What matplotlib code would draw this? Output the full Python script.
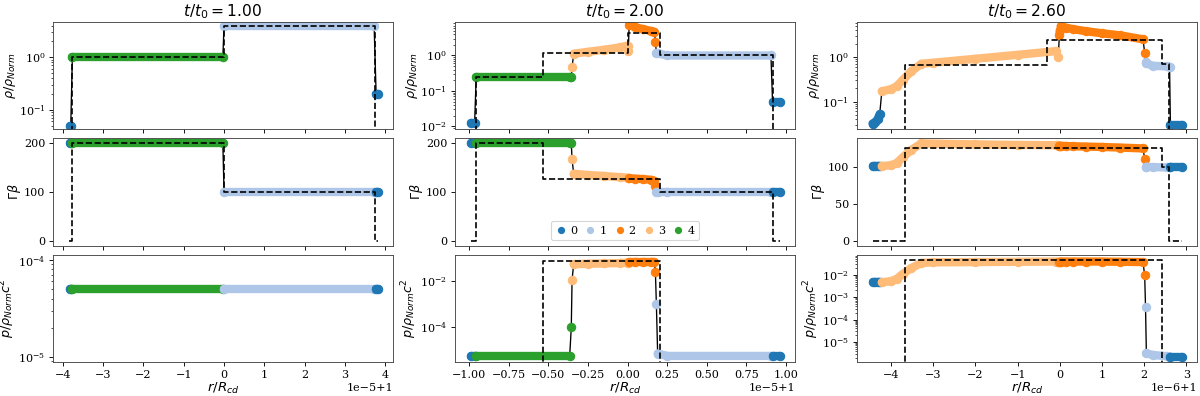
import numpy as np
import matplotlib
matplotlib.use("Agg")
import matplotlib.pyplot as plt
from matplotlib.lines import Line2D

plt.rcParams['font.family'] = ['DejaVu Serif']

# region colour ids: 0 blue, 1 light blue, 2 orange, 3 light orange, 4 green
COLORS = ['#1f77b4', '#aec7e8', '#ff7f0e', '#ffbb78', '#2ca02c']
LEGEND_LABELS = ['0', '1', '2', '3', '4']
TITLES = ['$t/t_0 = 1.00$', '$t/t_0 = 2.00$', '$t/t_0 = 2.60$']
SCALES = [1e-5, 1e-5, 1e-6]

# ---------------- column 1 : t/t0 = 1.00 ----------------
c1_ids = [0, 4, 1, 0]
c1_x = [[-3.83, -3.80], [-3.76, -0.03], [0.0, 3.72], [3.77, 3.81]]
c1_rho = [[0.05, 0.05], [1.0, 1.0], [4.0, 4.0], [0.2, 0.2]]
c1_gb = [[200, 200], [200, 200], [100, 100], [100, 100]]
c1_p = [[5e-5, 5e-5], [5e-5, 5e-5], [5e-5, 5e-5], [5e-5, 5e-5]]
c1_ref_x = [-3.85, -3.76, -3.76, 0.0, 0.0, 3.74, 3.74, 3.81]
c1_ref_rho = [0, 0, 1.0, 1.0, 4.0, 4.0, 0, 0]
c1_ref_gb = [0, 0, 200, 200, 100, 100, 0, 0]
c1_ref_p = [0, 0, 0, 0, 0, 0, 0, 0]

# ---------------- column 2 : t/t0 = 2.00 ----------------
c2_ids = [0, 4, 4, 3, 3, 3, 2, 2, 1, 1, 0]
c2_x = [[-0.99, -0.965], [-0.955, -0.365], [-0.355], [-0.35],
        [-0.34, -0.25, -0.15, -0.05, 0.0], [0.005],
        [0.01, 0.05, 0.10, 0.15, 0.17], [0.176], [0.182],
        [0.19, 0.25, 0.905], [0.915, 0.96]]
c2_rho = [[0.0124, 0.0124], [0.25, 0.25], [0.25], [0.46],
          [1.12, 1.27, 1.45, 1.68, 1.9], [1.3],
          [7.2, 6.3, 5.5, 4.9, 4.6], [2.4], [1.2],
          [1.15, 1.0, 1.0], [0.05, 0.05]]
c2_gb = [[200, 200], [200, 200], [200], [167],
         [137.5, 135, 133, 130.5, 129.5], [129.5],
         [128, 127.5, 126.5, 125, 123], [113], [100],
         [100, 100, 100], [100, 100]]
c2_p = [[5.5e-6, 5.5e-6], [5.5e-6, 5.5e-6], [9.4e-5], [0.0107],
        [0.052, 0.054, 0.056, 0.058, 0.06], [0.06],
        [0.065, 0.065, 0.065, 0.065, 0.065], [0.0227], [9.3e-4],
        [7e-6, 5.5e-6, 5.5e-6], [5.5e-6, 5.5e-6]]
c2_ref_x = [-0.99, -0.955, -0.955, -0.535, -0.535, 0.0, 0.0, 0.205, 0.205, 0.92, 0.92, 0.96]
c2_ref_rho = [0, 0, 0.25, 0.25, 1.15, 1.15, 4.3, 4.3, 1.0, 1.0, 0, 0]
c2_ref_gb = [0, 0, 200, 200, 127, 127, 127, 127, 100, 100, 0, 0]
c2_ref_p = [0, 0, 0, 0, 0.07, 0.07, 0.07, 0.07, 0, 0, 0, 0]

# ---------------- column 3 : t/t0 = 2.60 ----------------
c3_ids = [0, 3, 3, 2, 2, 2, 1, 1, 0]
c3_x = [[-4.44, -4.38, -4.32, -4.27],
        [-4.22, -4.0, -3.87, -3.72, -3.52, -3.28, -3.0, -2.0, -1.0, -0.08],
        [-0.04], [-0.01, 0.0],
        [0.02, 0.15, 0.3, 0.63, 1.0, 1.42, 1.97], [2.01], [2.03],
        [2.05, 2.2, 2.53, 2.6], [2.62, 2.9]]
c3_rho = [[0.032, 0.034, 0.04, 0.052],
          [0.17, 0.19, 0.22, 0.31, 0.48, 0.71, 0.75, 0.92, 1.13, 1.37],
          [1.0], [3.23, 4.0],
          [5.0, 4.6, 4.3, 3.83, 3.45, 3.11, 2.53], [1.26], [0.78],
          [0.72, 0.64, 0.62, 0.6], [0.029, 0.029]]
c3_gb = [[102, 102, 102, 102],
         [102, 103, 106, 114, 124, 133, 132.5, 131.5, 130.8, 130.4],
         [130.4], [130, 130],
         [129.5, 129.2, 129, 128.5, 128, 127.2, 126], [112], [101],
         [101, 100.5, 100, 100], [100, 100]]
c3_p = [[0.0046, 0.0046, 0.0046, 0.0046],
        [0.0046, 0.0052, 0.0065, 0.011, 0.02, 0.034, 0.036, 0.037, 0.038, 0.039],
        [0.039], [0.039, 0.039],
        [0.039, 0.039, 0.039, 0.039, 0.039, 0.038, 0.037], [0.0095], [3.6e-4],
        [3.07e-6, 2.6e-6, 2.3e-6, 2.2e-6], [2.2e-6, 2.2e-6]]
c3_ref_x = [-4.42, -3.67, -3.67, -0.30, -0.30, 2.43, 2.43, 2.59, 2.59, 2.9]
c3_ref_rho = [0, 0, 0.68, 0.68, 2.5, 2.5, 0.7, 0.7, 0, 0]
c3_ref_gb = [0, 0, 127, 127, 127, 127, 100, 100, 0, 0]
c3_ref_p = [0, 0, 0.045, 0.045, 0.045, 0.045, 0, 0, 0, 0]

# axis limits / ticks (offset units)
XLIMS = [(-4.24, 4.19), (-1.089, 1.057), (-4.81, 3.25)]
XTICKS = [[-4, -3, -2, -1, 0, 1, 2, 3, 4],
          [-1.0, -0.75, -0.5, -0.25, 0.0, 0.25, 0.5, 0.75, 1.0],
          [-4, -3, -2, -1, 0, 1, 2, 3]]
YLIMS = [[(0.043, 4.7), (-10, 210), (8.8e-6, 1.13e-4)],
         [(0.0084, 8.8), (-10, 210), (3.0e-6, 0.13)],
         [(0.024, 6.2), (-6.6, 139.6), (1.26e-6, 0.077)]]
YLABELS = [r'$\rho/\rho_{Norm}$', r'$\Gamma\beta$', r'$p/\rho_{Norm}c^2$']

columns = [
    (c1_ids, c1_x, [c1_rho, c1_gb, c1_p], c1_ref_x, [c1_ref_rho, c1_ref_gb, c1_ref_p]),
    (c2_ids, c2_x, [c2_rho, c2_gb, c2_p], c2_ref_x, [c2_ref_rho, c2_ref_gb, c2_ref_p]),
    (c3_ids, c3_x, [c3_rho, c3_gb, c3_p], c3_ref_x, [c3_ref_rho, c3_ref_gb, c3_ref_p]),
]

fig = plt.figure(figsize=(15, 4.95), dpi=80)
gs = fig.add_gridspec(3, 3, left=53/1200, right=1197/1200, top=1-22/396,
                      bottom=1-362/396, wspace=0.182, hspace=0.088)

TICK_FS = 10
for ci, (ids, xs, ys_list, rx, rys) in enumerate(columns):
    sc = SCALES[ci]
    for ri in range(3):
        ax = fig.add_subplot(gs[ri, ci])
        for s in ax.spines.values():
            s.set_edgecolor('#444444')
        ys = ys_list[ri]
        # thin black connecting line through all simulation points
        allx = np.concatenate([np.asarray(x, float) for x in xs]) * sc + 1.0
        ally = np.concatenate([np.asarray(y, float) for y in ys])
        ax.plot(allx, ally, color='k', lw=1.2, zorder=1)
        # coloured regions
        for rid, x, y in zip(ids, xs, ys):
            xx = np.asarray(x, float) * sc + 1.0
            ax.plot(xx, y, '-o', color=COLORS[rid], lw=7.5, ms=7.5,
                    solid_capstyle='round', solid_joinstyle='round', zorder=2)
        # analytic solution
        ax.plot(np.asarray(rx, float) * sc + 1.0, rys[ri], color='k', ls='--',
                lw=1.5, zorder=3)
        if ri != 1:
            ax.set_yscale('log')
        ax.set_ylim(*YLIMS[ci][ri])
        ax.set_xlim(XLIMS[ci][0] * sc + 1.0, XLIMS[ci][1] * sc + 1.0)
        ax.set_xticks([t * sc + 1.0 for t in XTICKS[ci]])
        ax.tick_params(labelsize=TICK_FS)
        ax.set_ylabel(YLABELS[ri], fontsize=11.5, labelpad=0.5)
        if ri == 0:
            ax.set_title(TITLES[ci], fontsize=14, pad=5)
        if ri < 2:
            ax.tick_params(labelbottom=False)
            ax.xaxis.offsetText.set_visible(False)
        else:
            ax.set_xlabel(r'$r/R_{cd}$', fontsize=12, labelpad=1)
            ax.xaxis.offsetText.set_fontsize(TICK_FS)
        if ri == 1 and ci == 1:
            handles = [Line2D([], [], marker='o', ls='none', color=COLORS[i], ms=5.5)
                       for i in range(5)]
            ax.legend(handles, LEGEND_LABELS, loc='lower center', ncol=5,
                      fontsize=10, handletextpad=0.3, columnspacing=0.7,
                      handlelength=1.0, borderaxespad=0.5)

fig.savefig('out.png', dpi=80)
